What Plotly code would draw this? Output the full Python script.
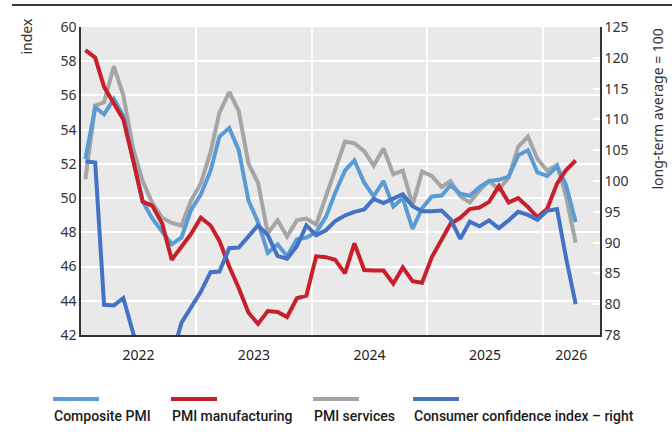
import pandas as pd
import plotly.graph_objects as go

# ---- data (monthly, Jan 2022 - Apr 2026) ----
months = pd.date_range("2022-01-01", periods=52, freq="MS") + pd.Timedelta(days=14)

composite_pmi = [52.3, 55.3, 54.9, 55.8, 54.8, 52.2, 49.8, 48.8, 48.0, 47.3, 47.7, 49.3,
                 50.2, 51.6, 53.6, 54.1, 52.8, 49.85, 48.6, 46.8, 47.3, 46.6, 47.6, 47.7,
                 48.0, 48.9, 50.3, 51.6, 52.2, 50.9, 50.1, 51.0, 49.5, 50.0, 48.2, 49.4,
                 50.1, 50.15, 50.75, 50.25, 50.14, 50.65, 51.0, 51.07, 51.26, 52.5, 52.8, 51.5,
                 51.3, 51.85, 50.8, 48.6]

pmi_manufacturing = [58.65, 58.2, 56.5, 55.5, 54.6, 52.2, 49.8, 49.55, 48.5, 46.4, 47.2, 47.9,
                     48.85, 48.4, 47.5, 46.0, 44.75, 43.3, 42.65, 43.4, 43.35, 43.05, 44.15, 44.3,
                     46.6, 46.55, 46.4, 45.6, 47.35, 45.8, 45.77, 45.77, 45.0, 45.95, 45.15, 45.05,
                     46.55, 47.6, 48.5, 48.85, 49.36, 49.45, 49.78, 50.7, 49.75, 50.0, 49.48, 48.88,
                     49.38, 50.85, 51.62, 52.2]

pmi_services = [51.1, 55.4, 55.6, 57.7, 56.0, 52.9, 51.0, 49.7, 48.85, 48.55, 48.4, 49.85,
                50.85, 52.7, 55.0, 56.2, 55.1, 52.0, 50.9, 47.95, 48.7, 47.75, 48.7, 48.8,
                48.45, 50.1, 51.6, 53.3, 53.2, 52.75, 51.9, 52.9, 51.4, 51.6, 49.6, 51.55,
                51.3, 50.65, 51.0, 50.1, 49.75, 50.45, 51.0, 50.5, 51.2, 53.0, 53.6, 52.3,
                51.6, 51.95, 50.15, 47.4]

consumer_confidence = [103.2, 103.0, 79.9, 79.8, 81.0, 75.3, 71.0, 69.5, 70.0, 71.4, 77.0, 79.6,
                       82.0, 85.2, 85.3, 89.1, 89.2, 91.0, 92.8, 91.2, 87.8, 87.4, 89.4, 92.8,
                       91.2, 92.0, 93.5, 94.4, 95.0, 95.4, 97.1, 96.4, 97.1, 97.85, 95.9, 95.1,
                       95.1, 95.2, 93.8, 90.6, 93.4, 92.65, 93.6, 92.35, 93.6, 95.0, 94.5, 93.7,
                       95.15, 95.45, 87.7, 80.0]

year_labels = ["2022", "2023", "2024", "2025", "2026"]
year_label_pos = ["2022-07-02", "2023-07-02", "2024-07-02", "2025-07-02", "2026-04-01"]
year_bounds = ["2023-01-01", "2024-01-01", "2025-01-01", "2026-01-01"]

left_ticks = list(range(42, 61, 2))
right_tickvals = list(range(75, 126, 5))
right_ticktext = ["78"] + [str(v) for v in range(80, 126, 5)]

series_names = ["Composite PMI", "PMI manufacturing", "PMI services",
                "Consumer confidence index – right"]
series_colors = ["#5B9BD5", "#C8202B", "#A5A5A5", "#4472C4"]

# ---- figure ----
fig = go.Figure()
fig.add_trace(go.Scatter(x=months, y=pmi_services, mode="lines", name=series_names[2],
                         line=dict(color=series_colors[2], width=4)))
fig.add_trace(go.Scatter(x=months, y=composite_pmi, mode="lines", name=series_names[0],
                         line=dict(color=series_colors[0], width=4)))
fig.add_trace(go.Scatter(x=months, y=pmi_manufacturing, mode="lines", name=series_names[1],
                         line=dict(color=series_colors[1], width=4)))
fig.add_trace(go.Scatter(x=months, y=consumer_confidence, mode="lines", name=series_names[3],
                         yaxis="y2", line=dict(color=series_colors[3], width=4)))

font_fam = "Noto Sans, sans-serif"
axis_col = "#333333"

L, R, T, B = 81, 72, 27, 97
PW, PH = 672 - L - R, 432 - T - B


def px(xp):
    return (xp - L) / PW


def py(yp):
    return (432 - B - yp) / PH


fig.update_layout(
    width=672, height=432,
    margin=dict(l=L, r=R, t=T, b=B),
    paper_bgcolor="white",
    plot_bgcolor="#E9E9E9",
    showlegend=False,
    font=dict(family=font_fam, size=13, color=axis_col),
    xaxis=dict(
        type="date",
        range=["2022-01-01", "2026-07-01"],
        tickmode="array", tickvals=year_label_pos, ticktext=year_labels,
        ticks="", showgrid=False, zeroline=False,
        showline=True, linecolor=axis_col, linewidth=1.5,
        ticklabelstandoff=6,
        tickfont=dict(size=14, color="#222222"),
        minor=dict(tickmode="array", tickvals=year_bounds, showgrid=True,
                   gridcolor="white", gridwidth=1.5, ticks=""),
    ),
    yaxis=dict(
        range=[42, 60], tickmode="array", tickvals=left_ticks,
        showgrid=True, gridcolor="white", gridwidth=1.5, zeroline=False,
        showline=True, linecolor=axis_col, linewidth=1.5, ticks="",
        tickfont=dict(size=14, color=axis_col),
    ),
    yaxis2=dict(
        overlaying="y", side="right",
        range=[75, 125], tickmode="array", tickvals=right_tickvals, ticktext=right_ticktext,
        showgrid=False, zeroline=False,
        showline=True, linecolor=axis_col, linewidth=1.5,
        ticks="inside", ticklen=7, tickcolor="white", tickwidth=1.5,
        tickfont=dict(size=14, color=axis_col),
    ),
)

# axis titles
fig.add_annotation(text="index", xref="paper", yref="paper", x=px(26), y=py(36.5),
                   xanchor="center", yanchor="middle", textangle=-90, showarrow=False,
                   font=dict(size=14, color=axis_col))
fig.add_annotation(text="long-term average = 100", xref="paper", yref="paper",
                   x=px(657), y=py(108.5),
                   xanchor="center", yanchor="middle", textangle=-90, showarrow=False,
                   font=dict(size=14, color=axis_col))

# top rule
fig.add_shape(type="line", xref="paper", yref="paper", x0=px(12), x1=px(672),
              y0=py(5), y1=py(5), line=dict(color="#3A3A3A", width=2))

# custom legend (swatch above label)
legend_x = [53, 171, 313, 413]
for k in range(4):
    x0 = legend_x[k]
    fig.add_shape(type="line", xref="paper", yref="paper",
                  x0=px(x0), x1=px(x0 + 46), y0=py(399), y1=py(399),
                  line=dict(color=series_colors[k], width=4))
    fig.add_annotation(text=series_names[k], xref="paper", yref="paper",
                       x=px(x0 - 1), y=py(416),
                       xanchor="left", yanchor="middle", showarrow=False,
                       font=dict(size=14, color="#1A1A1A", family="Roboto", weight=500))

fig.write_html("out.html",
               config={"displayModeBar": False},
               post_script="document.body.style.margin='0';document.body.style.padding='0';")
